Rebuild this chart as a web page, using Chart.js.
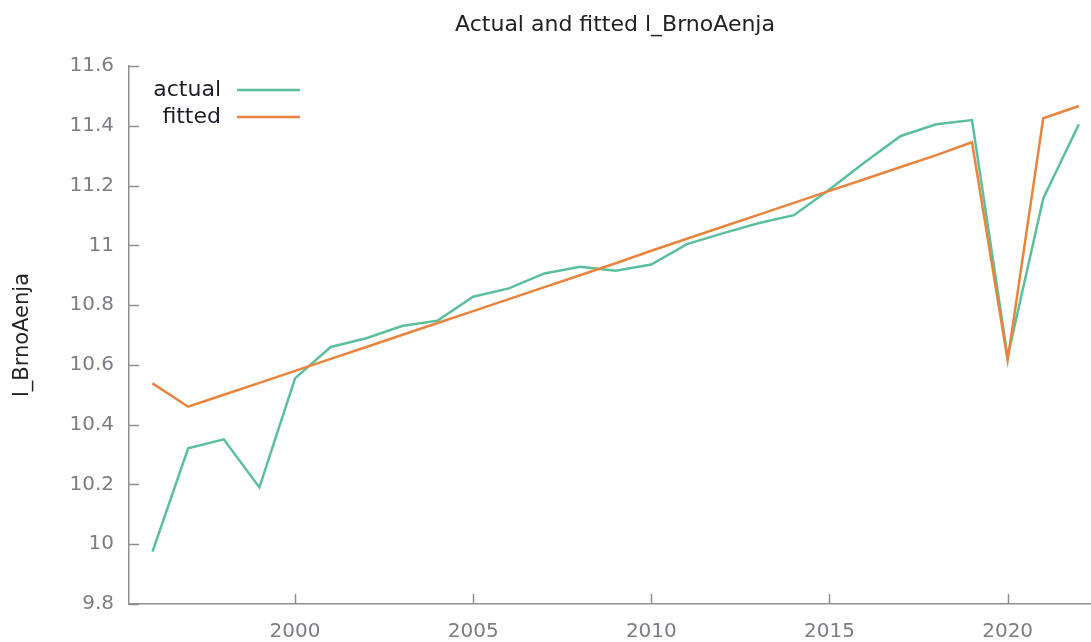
<!DOCTYPE html>
<html>
<head>
<meta charset="utf-8">
<script src="https://cdn.jsdelivr.net/npm/chart.js@4/dist/chart.umd.min.js"></script>
<style>
  html, body { margin: 0; padding: 0; background: #fff; }
  #c { display: block; }
</style>
</head>
<body>
<canvas id="c" width="1091" height="642"></canvas>
<script>
const years = [1996, 1997, 1998, 1999, 2000, 2001, 2002, 2003, 2004, 2005, 2006, 2007, 2008, 2009,
  2010, 2011, 2012, 2013, 2014, 2015, 2016, 2017, 2018, 2019, 2020, 2021, 2022];
const actual = [9.975, 10.321, 10.351, 10.190, 10.555, 10.660, 10.689, 10.730, 10.748, 10.828, 10.856, 10.906, 10.928, 10.915,
  10.936, 11.004, 11.040, 11.074, 11.101, 11.187, 11.279, 11.366, 11.405, 11.419, 10.627, 11.157, 11.405];
const fitted = [10.538, 10.460, 10.500, 10.540, 10.580, 10.620, 10.660, 10.700, 10.740, 10.780, 10.820, 10.860, 10.900, 10.940,
  10.982, 11.022, 11.062, 11.102, 11.142, 11.182, 11.222, 11.262, 11.302, 11.345, 10.615, 11.425, 11.466];
const xTicks = [2000, 2005, 2010, 2015, 2020];
const yTicks = [9.8, 10, 10.2, 10.4, 10.6, 10.8, 11, 11.2, 11.4, 11.6];
const seriesNames = ['actual', 'fitted'];
const chartTitle = 'Actual and fitted l_BrnoAenja';
const yTitle = 'l_BrnoAenja';

const FONT = "'DejaVu Sans', Verdana, sans-serif";
const GREEN = '#5cbf9b';
const ORANGE = '#e8843e';
const AXIS = '#8f8f8f';
const LABEL = '#7c7c84';

const pts = (vals) => years.map((y, i) => ({ x: y, y: vals[i] }));

// ticks point inward, like gnuplot
const innerTicks = {
  id: 'innerTicks',
  afterDraw(chart) {
    const { ctx, scales: { x, y } } = chart;
    ctx.save();
    ctx.strokeStyle = AXIS;
    ctx.lineWidth = 1.5;
    ctx.beginPath();
    xTicks.forEach(v => {
      const px = Math.round(x.getPixelForValue(v)) + 0.5;
      ctx.moveTo(px, y.bottom);
      ctx.lineTo(px, y.bottom - 10);
    });
    yTicks.forEach(v => {
      const py = Math.round(y.getPixelForValue(v)) + 0.5;
      ctx.moveTo(x.left, py);
      ctx.lineTo(x.left + 10, py);
    });
    ctx.stroke();
    ctx.restore();
  }
};

const titleAndKey = {
  id: 'titleAndKey',
  afterDraw(chart) {
    const ctx = chart.ctx;
    ctx.save();
    ctx.fillStyle = '#222';
    ctx.font = '22px ' + FONT;
    ctx.textAlign = 'center';
    ctx.textBaseline = 'middle';
    ctx.fillText(chartTitle, 615, 25);

    ctx.font = '22px ' + FONT;
    ctx.textAlign = 'right';
    chart.data.datasets.forEach((ds, i) => {
      const ly = 90 + i * 27;
      ctx.fillStyle = '#1e1e28';
      ctx.fillText(ds.label, 221, ly);
      ctx.strokeStyle = ds.borderColor;
      ctx.lineWidth = 2.5;
      ctx.beginPath();
      ctx.moveTo(237, ly);
      ctx.lineTo(300, ly);
      ctx.stroke();
    });
    ctx.restore();
  }
};

new Chart(document.getElementById('c'), {
  type: 'line',
  data: {
    datasets: [
      { label: seriesNames[0], data: pts(actual), borderColor: GREEN, borderWidth: 2.5, pointRadius: 0, tension: 0, order: 1 },
      { label: seriesNames[1], data: pts(fitted), borderColor: ORANGE, borderWidth: 2.5, pointRadius: 0, tension: 0, order: 0 }
    ]
  },
  options: {
    responsive: false,
    animation: false,
    devicePixelRatio: 1,
    layout: { padding: { top: 66, right: 0, bottom: 0, left: 0 } },
    plugins: { legend: { display: false }, title: { display: false }, tooltip: { enabled: false } },
    scales: {
      x: {
        type: 'linear',
        min: 1995.34,
        max: 2022.34,
        afterBuildTicks: (s) => { s.ticks = xTicks.map(v => ({ value: v })); },
        afterFit: (s) => { s.height = 38; },
        grid: { drawOnChartArea: false, drawTicks: false },
        border: { display: true, color: AXIS, width: 1.5 },
        ticks: { color: LABEL, font: { family: FONT, size: 20 }, padding: 16, maxRotation: 0,
          callback: (v) => String(v) }
      },
      y: {
        min: 9.8,
        max: 11.6,
        afterBuildTicks: (s) => { s.ticks = yTicks.map(v => ({ value: v })); },
        afterFit: (s) => { s.width = 129; },
        grid: { drawOnChartArea: false, drawTicks: false },
        border: { display: true, color: AXIS, width: 1.5 },
        ticks: { color: LABEL, font: { family: FONT, size: 20 }, padding: 15,
          callback: (v) => String(Math.round(v * 10) / 10) },
        title: { display: true, text: yTitle, color: '#222', font: { family: FONT, size: 21 }, padding: { top: 10, bottom: 0 } }
      }
    }
  },
  plugins: [innerTicks, titleAndKey]
});
</script>
</body>
</html>
